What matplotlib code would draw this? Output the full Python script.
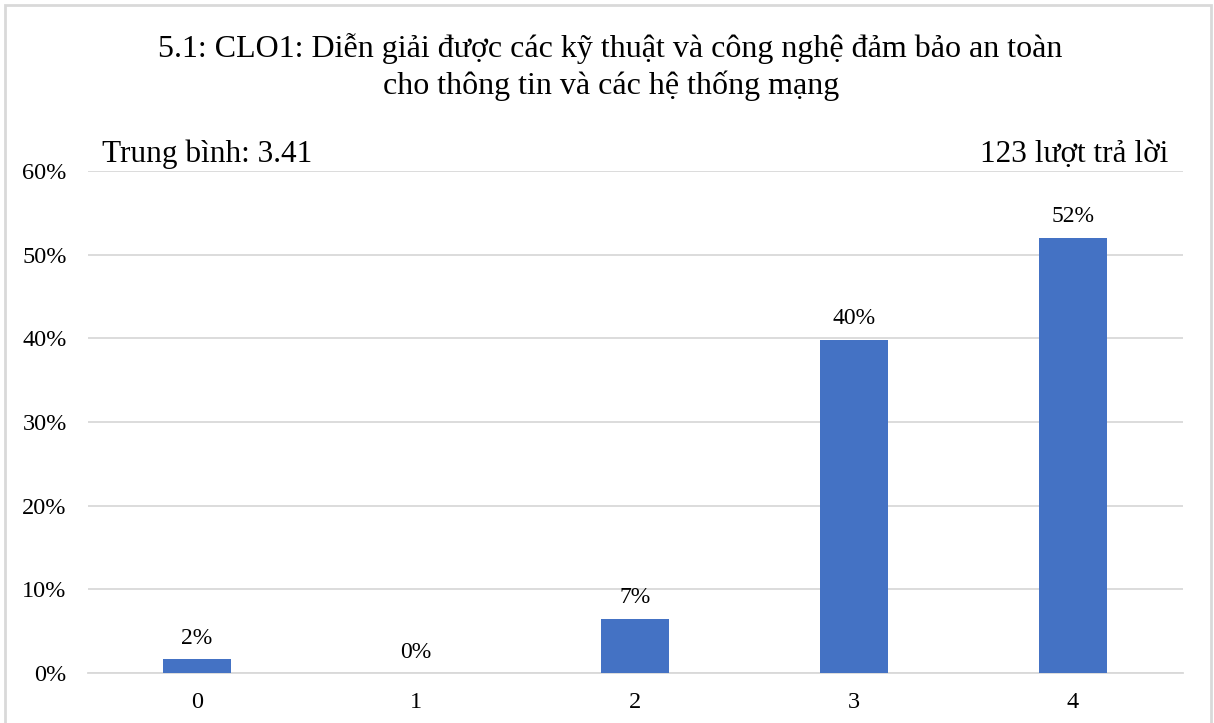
import matplotlib
matplotlib.use("Agg")
import numpy as np
from matplotlib import pyplot as plt
from matplotlib.patches import Rectangle
from matplotlib.ticker import PercentFormatter

# response counts per score
scores = [0, 1, 2, 3, 4]
counts = [2, 0, 8, 49, 64]
title = "5.1: CLO1: Diễn giải được các kỹ thuật và công nghệ đảm bảo an toàn\ncho thông tin và các hệ thống mạng"

total = sum(counts)
shares = np.array(counts) / total
mean_score = np.dot(scores, counts) / total

bar_color = "#4472C4"
grid_color = "#D9D9D9"

plt.rcParams["font.family"] = ["Liberation Serif", "DejaVu Serif"]

fig = plt.figure(figsize=(12.14, 7.23), dpi=100)
ax = fig.add_axes([0.0721, 0.0692, 0.902, 0.694])

bars = ax.bar(scores, shares, width=0.31, color=bar_color, zorder=3)
for rect, share in zip(bars, shares):
    ax.annotate(f"{share * 100:.0f}%", (rect.get_x() + rect.get_width() / 2, rect.get_height()),
                xytext=(0, 7.5), textcoords="offset points", ha="center", va="bottom", fontsize=17)

ax.set_xlim(-0.5, 4.5)
ax.set_ylim(0, 0.6)
ax.set_xticks(scores)
ax.set_yticks(np.arange(0, 0.61, 0.1))
ax.yaxis.set_major_formatter(PercentFormatter(1.0, decimals=0))
ax.tick_params(axis="both", length=0, labelsize=17.5)
ax.tick_params(axis="y", pad=15)
ax.tick_params(axis="x", pad=14)
ax.grid(axis="y", color=grid_color, linewidth=1.3, zorder=0)
for side in ["top", "right", "left"]:
    ax.spines[side].set_visible(False)
ax.spines["bottom"].set_color(grid_color)
ax.spines["bottom"].set_linewidth(1.3)

fig.text(0.503, 0.907, title, ha="center", va="center", fontsize=23, linespacing=1.27)
fig.text(0.084, 0.786, f"Trung bình: {mean_score:.2f}", ha="left", va="center", fontsize=22.5)
fig.text(0.9621, 0.786, f"{total} lượt trả lời", ha="right", va="center", fontsize=22.5)

# light frame around the chart area
fig.patches.append(Rectangle((5 / 1214, -0.05), 1206 / 1214, 1.043, transform=fig.transFigure,
                             fill=False, edgecolor=grid_color, linewidth=2))

fig.savefig("out.png", dpi=100)
